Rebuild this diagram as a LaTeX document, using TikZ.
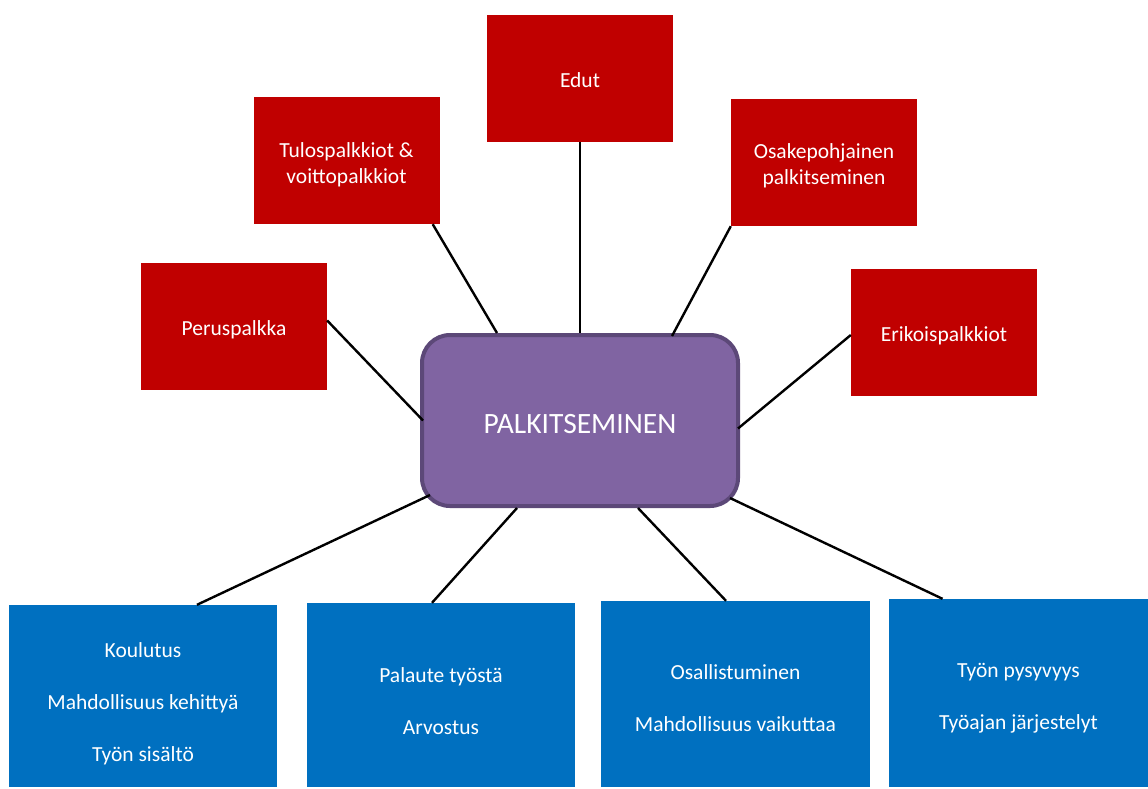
\documentclass[tikz,border=0pt]{standalone}
\usepackage{fontspec}
\setmainfont{Carlito}
\usetikzlibrary{calc}
\definecolor{topred}{HTML}{C00000}
\definecolor{botblue}{HTML}{0070C0}
\definecolor{midpurple}{HTML}{8064A2}
\definecolor{midedge}{HTML}{5C4878}
\begin{document}
\begin{tikzpicture}[x=1pt,y=-1pt,
  txt/.style={text=white, align=center, inner sep=0pt, font=\fontsize{21.5}{26}\selectfont},
  redbox/.style={fill=topred, minimum width=186pt, minimum height=127pt, inner sep=0pt},
  bluebox/.style={fill=botblue, inner sep=0pt},
  hub/.style={fill=midpurple, draw=midedge, line width=4pt, rounded corners=28pt,
    minimum width=316pt, minimum height=171pt, inner sep=0pt},
  spoke/.style={line width=2.4pt, black}]
\useasboundingbox (0,0) rectangle (1148,788);

% central node
\node[hub, label={[txt, font=\fontsize{29.5}{34}\selectfont, yshift=-4pt]center:PALKITSEMINEN}]
  (pal) at (580,420.5) {};

% upper (red) nodes
\node[redbox, label={[txt, yshift=-2pt]center:Edut}] (edut) at (580,78.5) {};
\node[redbox, label={[txt, yshift=-4pt]center:{Tulospalkkiot \&\\voittopalkkiot}}]
  (tulos) at (346.5,160.5) {};
\node[redbox, label={[txt, yshift=-3pt]center:{Osakepohjainen\\palkitseminen}}]
  (osake) at (824,162.5) {};
\node[redbox, label={[txt, yshift=-3pt]center:Peruspalkka}] (perus) at (234,326.5) {};
\node[redbox, label={[txt, yshift=-3pt]center:Erikoispalkkiot}] (erik) at (944,332.5) {};

% lower (blue) nodes
\node[bluebox, minimum width=268pt, minimum height=182pt,
  label={[txt, yshift=-8pt]center:{Koulutus\\[26pt]Mahdollisuus kehittyä\\[26pt]Työn sisältö}}]
  (b1) at (143,696) {};
\node[bluebox, minimum width=268pt, minimum height=184pt,
  label={[txt, yshift=-6pt]center:{Palaute työstä\\[26pt]Arvostus}}]
  (b2) at (441,695) {};
\node[bluebox, minimum width=269pt, minimum height=186pt,
  label={[txt, yshift=-4pt]center:{Osallistuminen\\[26pt]Mahdollisuus vaikuttaa}}]
  (b3) at (735.5,694) {};
\node[bluebox, minimum width=259pt, minimum height=188pt,
  label={[txt, yshift=-5pt]center:{Työn pysyvyys\\[26pt]Työajan järjestelyt}}]
  (b4) at (1018.5,693) {};

% spokes (pt shifts: positive y is upwards)
\draw[spoke] ([yshift=6pt]perus.east) -- ([xshift=3pt]pal.west);
\draw[spoke] ([xshift=-7pt]tulos.south east) -- ([xshift=-83pt]pal.north);
\draw[spoke] (edut.south) -- (pal.north);
\draw[spoke] (osake.south west) -- ([xshift=92pt,yshift=-3pt]pal.north);
\draw[spoke] ([yshift=-2.5pt]erik.west) -- ([xshift=-2pt,yshift=-8pt]pal.east);
\draw[spoke] ([xshift=54pt]b1.north) -- ([shift={(10pt,13pt)}]pal.south west);
\draw[spoke] ([xshift=-9pt]b2.north) -- ([xshift=-63pt]pal.south);
\draw[spoke] ([xshift=-9.5pt]b3.north) -- ([xshift=58pt]pal.south);
\draw[spoke] ([xshift=-76pt]b4.north) -- ([shift={(-10pt,10pt)}]pal.south east);
\end{tikzpicture}
\end{document}
